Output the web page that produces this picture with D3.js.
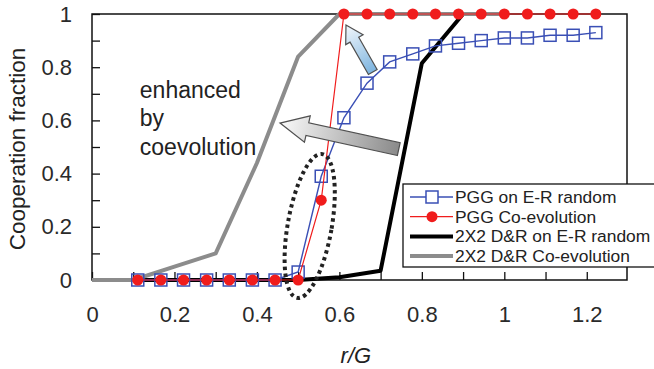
<!DOCTYPE html>
<html>
<head>
<meta charset="utf-8">
<script src="https://cdn.jsdelivr.net/npm/d3@7"></script>
<style>
    body { margin: 0; background: #fff; }
    svg { display: block; font-family: "Liberation Sans", Arial, sans-serif; }
    .tick-label { font-size: 22px; fill: #2a2a2a; }
    .legend-text { font-size: 17.4px; fill: #222; }
</style>
</head>
<body>
<div id="chart"></div>
<script>
// Cooperation fraction vs r/G — four series, Excel-style frame.

const W = 654, H = 369;
const margin = { top: 14, right: 27, bottom: 89, left: 92 };

// PGG series share the same r/G grid
const pggX = [0.111, 0.167, 0.222, 0.278, 0.333, 0.389, 0.444, 0.5, 0.556, 0.611, 0.667,
              0.722, 0.778, 0.833, 0.889, 0.944, 1.0, 1.056, 1.111, 1.167, 1.222];
const pggER = [0, 0, 0, 0, 0, 0, 0, 0.03, 0.39, 0.61, 0.74,
               0.82, 0.85, 0.88, 0.89, 0.90, 0.91, 0.91, 0.92, 0.92, 0.93];
const pggCo = [0, 0, 0, 0, 0, 0, 0, 0, 0.30, 1, 1,
               1, 1, 1, 1, 1, 1, 1, 1, 1, 1];

const drX = [0.1, 0.2, 0.3, 0.4, 0.5, 0.6, 0.7, 0.8, 0.9, 1.0];
const drER = [0, 0, 0, 0, 0, 0.01, 0.035, 0.815, 1, 1];
const drCoX = [0, 0.1, 0.2, 0.3, 0.4, 0.5, 0.6, 0.7, 0.8, 0.9, 1.0];
const drCo = [0, 0, 0.05, 0.1, 0.44, 0.84, 1, 1, 1, 1, 1];

const xTicks = [0, 0.1, 0.2, 0.3, 0.4, 0.5, 0.6, 0.7, 0.8, 0.9, 1.0, 1.1, 1.2];
const xLabels = ["0", "", "0.2", "", "0.4", "", "0.6", "", "0.8", "", "1", "", "1.2"];
const yTicks = [0, 0.1, 0.2, 0.3, 0.4, 0.5, 0.6, 0.7, 0.8, 0.9, 1.0];
const yLabels = ["0", "", "0.2", "", "0.4", "", "0.6", "", "0.8", "", "1"];

const legendNames = ["PGG on E-R random", "PGG Co-evolution",
                     "2X2 D&R on E-R random", "2X2 D&R Co-evolution"];
const noteLines = ["enhanced", "by", "coevolution"];

const BLUE = "#3a4fb5";
const RED = "#f01c1c";

const innerW = W - margin.left - margin.right;
const innerH = H - margin.top - margin.bottom;

const svg = d3.select("#chart").append("svg")
    .attr("width", W).attr("height", H);

// Arrow fills run tail (0) -> tip (1)
const defs = svg.append("defs");
const gGray = defs.append("linearGradient").attr("id", "grayArrow")
    .attr("x1", 0).attr("x2", 1).attr("y1", 0).attr("y2", 0);
gGray.append("stop").attr("offset", 0).attr("stop-color", "#8a8a8a");
gGray.append("stop").attr("offset", 1).attr("stop-color", "#fafafa");
const gBlue = defs.append("linearGradient").attr("id", "blueArrow")
    .attr("x1", 0).attr("x2", 1).attr("y1", 0).attr("y2", 0);
gBlue.append("stop").attr("offset", 0).attr("stop-color", "#7db4df");
gBlue.append("stop").attr("offset", 1).attr("stop-color", "#f4f8fc");

const g = svg.append("g")
    .attr("transform", `translate(${margin.left},${margin.top})`);

const x = d3.scaleLinear().domain([0, 1.3]).range([0, innerW + 1]);
const y = d3.scaleLinear().domain([0, 1]).range([innerH, 0]);

// Frame
g.append("rect")
    .attr("x", 0).attr("y", 0)
    .attr("width", innerW).attr("height", innerH)
    .attr("fill", "none").attr("stroke", "#111").attr("stroke-width", 1.5);

// Axes with inward ticks
const xAxis = g.append("g")
    .attr("transform", `translate(0,${innerH})`)
    .call(d3.axisBottom(x).tickValues(xTicks)
        .tickFormat((d, i) => xLabels[i]).tickSize(-8).tickPadding(26));
xAxis.select(".domain").remove();
xAxis.selectAll(".tick line").attr("stroke", "#111").attr("stroke-width", 1.3);
xAxis.selectAll(".tick text").attr("class", "tick-label").attr("dy", "0.72em");

const yAxis = g.append("g")
    .call(d3.axisLeft(y).tickValues(yTicks)
        .tickFormat((d, i) => yLabels[i]).tickSize(-8).tickPadding(20));
yAxis.select(".domain").remove();
yAxis.selectAll(".tick line").attr("stroke", "#111").attr("stroke-width", 1.3);
yAxis.selectAll(".tick text").attr("class", "tick-label");

// Axis titles
svg.append("text")
    .attr("transform", `translate(25,${margin.top + innerH / 2 + 2}) rotate(-90)`)
    .attr("text-anchor", "middle")
    .attr("font-size", 22.5).attr("fill", "#222")
    .text("Cooperation fraction");

svg.append("text")
    .attr("x", margin.left + x(0.64)).attr("y", 363)
    .attr("text-anchor", "middle")
    .attr("font-size", 22).attr("font-style", "italic").attr("fill", "#222")
    .text("r/G");

const line = d3.line().x((d) => x(d[0])).y((d) => y(d[1]));
const zip = (xs, ys) => xs.map((v, i) => [v, ys[i]]);

// Thick D&R lines underneath
g.append("path")
    .datum(zip(drX, drER))
    .attr("fill", "none").attr("stroke", "#000").attr("stroke-width", 4)
    .attr("stroke-linejoin", "round")
    .attr("d", line);

g.append("path")
    .datum(zip(drCoX, drCo))
    .attr("fill", "none").attr("stroke", "#8c8c8c").attr("stroke-width", 4)
    .attr("stroke-linejoin", "round")
    .attr("d", line);

// PGG on E-R random
g.append("path")
    .datum(zip(pggX, pggER))
    .attr("fill", "none").attr("stroke", BLUE).attr("stroke-width", 1.4)
    .attr("d", line);
g.selectAll(".sq")
    .data(zip(pggX, pggER))
    .join("rect")
    .attr("class", "sq")
    .attr("x", (d) => x(d[0]) - 6).attr("y", (d) => y(d[1]) - 6)
    .attr("width", 12).attr("height", 12)
    .attr("fill", "none").attr("stroke", BLUE).attr("stroke-width", 1.5);

// PGG co-evolution
g.append("path")
    .datum(zip(pggX, pggCo))
    .attr("fill", "none").attr("stroke", RED).attr("stroke-width", 1.2)
    .attr("d", line);
g.selectAll(".dot")
    .data(zip(pggX, pggCo))
    .join("circle")
    .attr("class", "dot")
    .attr("cx", (d) => x(d[0])).attr("cy", (d) => y(d[1]))
    .attr("r", 5.5)
    .attr("fill", RED);

// Dotted ellipse around the PGG transition
g.append("ellipse")
    .attr("transform", `translate(${x(0.528)},${y(0.203)}) rotate(10)`)
    .attr("rx", 22).attr("ry", 73)
    .attr("fill", "none").attr("stroke", "#222")
    .attr("stroke-width", 4).attr("stroke-dasharray", "3.5 3.5");

// Block arrows, drawn along +x from tail then rotated onto the target
function blockArrow(from, to, bodyW, headW, headL, fill) {
    const x0 = x(from[0]), y0 = y(from[1]);
    const x1 = x(to[0]), y1 = y(to[1]);
    const len = Math.hypot(x1 - x0, y1 - y0);
    const ang = Math.atan2(y1 - y0, x1 - x0) * 180 / Math.PI;
    const b = bodyW / 2, h = headW / 2, s = len - headL;
    const pts = [[0, -b], [s, -b], [s, -h], [len, 0], [s, h], [s, b], [0, b]];
    g.append("polygon")
        .attr("transform", `translate(${x0},${y0}) rotate(${ang})`)
        .attr("points", pts.map((p) => p.join(",")).join(" "))
        .attr("fill", fill).attr("stroke", "#505050").attr("stroke-width", 1.2);
}
blockArrow([0.744, 0.492], [0.456, 0.59], 13, 27, 28, "url(#grayArrow)");
blockArrow([0.681, 0.782], [0.616, 0.959], 10, 20, 17, "url(#blueArrow)");

// Annotation text
g.append("text")
    .attr("font-size", 23).attr("fill", "#222")
    .selectAll("tspan")
    .data(noteLines)
    .join("tspan")
    .attr("x", x(0.116))
    .attr("y", (d, i) => y(0.685) + i * 28.5)
    .text((d) => d);

// Legend (box runs off the right edge, as in the source figure)
const lg = svg.append("g").attr("transform", "translate(403,184)");
lg.append("rect")
    .attr("width", 260).attr("height", 83)
    .attr("fill", "#fff").attr("stroke", "#111").attr("stroke-width", 1.3);
const rows = lg.selectAll(".row")
    .data(legendNames)
    .join("g")
    .attr("class", "row")
    .attr("transform", (d, i) => `translate(0,${13 + i * 19.7})`);
rows.append("line")
    .attr("x1", 7).attr("x2", 50)
    .attr("stroke", (d, i) => [BLUE, RED, "#000", "#8c8c8c"][i])
    .attr("stroke-width", (d, i) => [1.4, 1.2, 4, 4][i]);
rows.filter((d, i) => i === 0).append("rect")
    .attr("x", 23).attr("y", -6).attr("width", 12).attr("height", 12)
    .attr("fill", "#fff").attr("stroke", BLUE).attr("stroke-width", 1.5);
rows.filter((d, i) => i === 1).append("circle")
    .attr("cx", 29).attr("r", 5.5).attr("fill", RED);
rows.append("text")
    .attr("class", "legend-text")
    .attr("x", 52).attr("dy", "0.35em")
    .text((d) => d);
</script>
</body>
</html>
